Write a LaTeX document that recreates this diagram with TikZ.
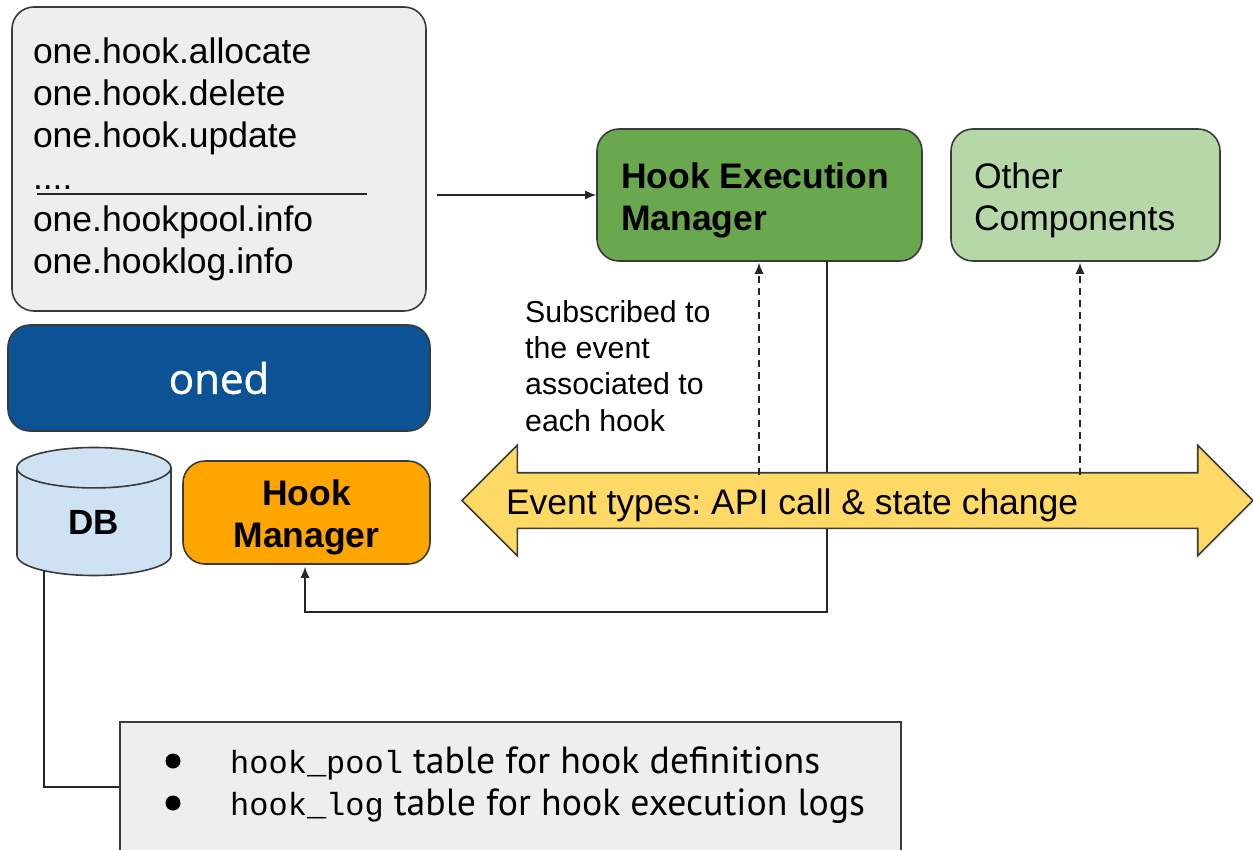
\documentclass[tikz,border=0pt]{standalone}
\usepackage{fontspec}
\setmainfont{Liberation Sans}
\newfontfamily\tablefont{PT Sans}
\newfontfamily\tablemono{Liberation Mono}
\newfontfamily\onedfont[FakeBold=1.2]{Open Sans}
\usetikzlibrary{arrows.meta,shapes.geometric,shapes.arrows}
\definecolor{edgegray}{HTML}{3A3A3A}
\definecolor{listgray}{HTML}{EEEEEE}
\definecolor{onedblue}{HTML}{0B5394}
\definecolor{hookorange}{HTML}{FFA500}
\definecolor{dbblue}{HTML}{CFE2F3}
\definecolor{mgrgreen}{HTML}{6AA84F}
\definecolor{othergreen}{HTML}{B6D7A8}
\definecolor{eventyellow}{HTML}{FFD966}
\newcommand{\toppad}{\rule{0pt}{36pt}}
\tikzset{
  box/.style={draw=edgegray,line width=1.6pt,rectangle,rounded corners=22pt,inner sep=0pt,align=flush left},
  bigtext/.style={font=\fontsize{35.5}{42}\selectfont\frenchspacing},
  boldtext/.style={font=\fontsize{35.5}{42}\selectfont\bfseries},
  tablerow/.style={anchor=base west,inner sep=0pt,font=\fontsize{37.8}{42}\selectfont\tablefont},
  tabledot/.style={circle,fill=black,inner sep=0pt,minimum size=15pt},
  link/.style={line width=1.4pt,black!85},
  dashlink/.style={link,dash pattern=on 7pt off 5pt,shorten >=1pt}
}
\begin{document}
\begin{tikzpicture}[x=1pt,y=-1pt,>={Latex[length=11pt,width=9pt]}]
\useasboundingbox (0,0) rectangle (1253,849);
\node [box,bigtext,fill=listgray,minimum width=414pt,minimum height=304pt,text width=372pt] (events list) at (219,159)
  {one.hook.allocate\\one.hook.delete\\one.hook.update\\....\\one.hookpool.info\\one.hooklog.info};
\coordinate (rule left) at (37,194);
\coordinate (rule right) at (367,194);
\draw [link] (rule left) to (rule right);
\node [box,fill=onedblue,text=white,align=center,minimum width=422pt,minimum height=106pt,font=\fontsize{42}{44}\selectfont\onedfont] (oned) at (219,378) {oned};
\node [box,boldtext,fill=hookorange,align=flush center,minimum width=247pt,minimum height=103pt] (hook) at (306.5,512.5) {\toppad Hook\\Manager};
\node [box,boldtext,fill=mgrgreen,minimum width=325pt,minimum height=132pt,text width=277pt] (manager) at (759.5,195) {\toppad Hook Execution\\Manager};
\node [box,bigtext,fill=othergreen,minimum width=269pt,minimum height=132pt,text width=223pt] (other) at (1085.5,195) {\toppad Other\\Components};
\node [inner sep=0pt,align=flush left,font=\fontsize{30.3}{36.3}\selectfont,anchor=north west] (subscribed) at (525,300) {Subscribed to\\the event\\associated to\\each hook};
% arrows behind the event arrow
\coordinate (list out) at (437,195);
\draw [->,link] (list out) to (manager.west);
\coordinate (mgr out) at (827,261);
\coordinate (hook turn) at (305,612);
\draw [->,link,shorten >=2pt] (mgr out) -- (mgr out |- hook turn) -- (hook turn) -- (hook.south -| hook turn);
\node [draw=edgegray,line width=1.6pt,fill=eventyellow,double arrow,double arrow head extend=27.5pt,double arrow head indent=0pt,
  double arrow tip angle=90,minimum height=791pt,minimum width=109pt,inner sep=0pt,text width=703pt,text height=40.5pt,text depth=13.5pt,
  align=flush left,bigtext] (events) at (857.5,500.5) {Event types: API call \& state change};
\coordinate (mgr tap) at (759,475);
\coordinate (other tap) at (1080,475);
\draw [->,dashlink] (mgr tap) to (mgr tap |- manager.south);
\draw [->,dashlink] (other tap) to (other tap |- other.south);
% database and its tables
\node [draw=edgegray,line width=1.6pt,rectangle,fill=listgray,minimum width=781pt,minimum height=130pt] (tables) at (510.5,787) {};
\coordinate (db out) at (44,560);
\draw [link] (db out) |- (tables.west);
\node [draw=edgegray,line width=1.6pt,fill=dbblue,cylinder,shape border rotate=90,aspect=0.8,cylinder uses custom fill,cylinder body fill=dbblue,cylinder end fill=dbblue,
  minimum width=154pt,minimum height=128pt,inner sep=0pt,font=\fontsize{35}{42}\selectfont\bfseries] (db) at (94,522) {DB};
\node [tabledot] (dot one) at (173,761) {};
\node [tabledot] (dot two) at (173,803) {};
\node [tablerow] (row one) at (230,773) {{\tablemono\fontsize{32}{42}\selectfont hook\_pool} table for hook definitions};
\node [tablerow] (row two) at (230,815) {{\tablemono\fontsize{32}{42}\selectfont hook\_log} table for hook execution logs};
\end{tikzpicture}
\end{document}
